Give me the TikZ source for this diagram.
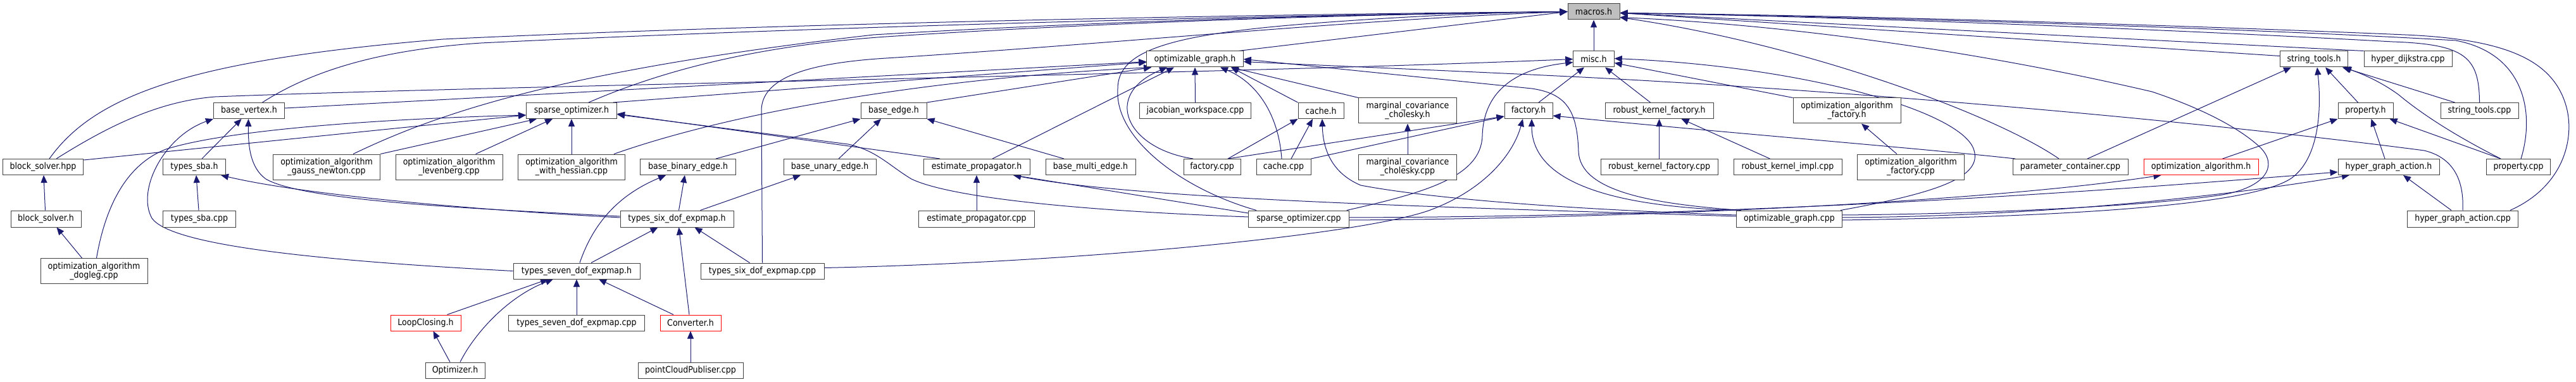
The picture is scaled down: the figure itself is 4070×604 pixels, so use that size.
\documentclass[tikz,border=0pt]{standalone}
\usepackage{fontspec}
\setmainfont{DejaVu Sans}[FakeStretch=0.9]
\usetikzlibrary{arrows.meta,backgrounds}
\definecolor{edgec}{HTML}{191970}
\definecolor{boxc}{HTML}{404040}
\definecolor{macfill}{HTML}{BFBFBF}
\newcommand\nodefont{\fontsize{14}{14}\selectfont}
\begin{document}
\begin{tikzpicture}[x=1pt,y=-1pt,
  box/.style={draw=boxc, line width=1pt, fill=white, inner sep=0pt, align=center, font=\nodefont, minimum height=25pt},
  redbox/.style={box, draw=red},
  e/.style={draw=edgec, line width=1pt, -{Triangle[length=12pt,width=10pt]}},
]
\path[use as bounding box] (0,0) rectangle (4070,604);
% row 0
\node[box, fill=macfill, minimum width=82pt] (mac) at (2518,18.5) {macros.h};
% row 1
\node[box, minimum width=64.5pt] (misc) at (2518,93.5) {misc.h};
\node[box, minimum width=152.5pt] (optg) at (1888,93.5) {optimizable\_graph.h};
\node[box, minimum width=107.5pt] (stl) at (3656,93.5) {string\_tools.h};
\node[box, minimum width=139pt] (hdc) at (3804.5,93.5) {hyper\_dijkstra.cpp};
% row 2
\node[box, minimum width=112pt] (bv) at (393.5,175) {base\_vertex.h};
\node[box, minimum width=143pt] (spo) at (903,175) {sparse\_optimizer.h};
\node[box, minimum width=104pt] (be) at (1412,175) {base\_edge.h};
\node[box, minimum width=176pt] (jws) at (1888.5,175) {jacobian\_workspace.cpp};
\node[box, minimum width=72pt] (ch) at (2087,175) {cache.h};
\node[box, minimum width=154.5pt, minimum height=40pt] (mcch) at (2224,175) {marginal\_covariance\\\_cholesky.h};
\node[box, minimum width=76pt] (fh) at (2415,175) {factory.h};
\node[box, minimum width=171pt] (rkfh) at (2621.5,175) {robust\_kernel\_factory.h};
\node[box, minimum width=170pt, minimum height=40pt] (oafh) at (2918,175) {optimization\_algorithm\\\_factory.h};
\node[box, minimum width=87pt] (prh) at (3737.5,175) {property.h};
\node[box, minimum width=123pt] (stc) at (3917.5,175) {string\_tools.cpp};
% row 3
\node[box, minimum width=127.5pt] (bsp) at (68,264) {block\_solver.hpp};
\node[box, minimum width=99pt] (tsh) at (307,264) {types\_sba.h};
\node[box, minimum width=169pt, minimum height=40pt] (ogn) at (516,264) {optimization\_algorithm\\\_gauss\_newton.cpp};
\node[box, minimum width=169pt, minimum height=40pt] (olv) at (709.5,264) {optimization\_algorithm\\\_levenberg.cpp};
\node[box, minimum width=169pt, minimum height=40pt] (owh) at (903,264) {optimization\_algorithm\\\_with\_hessian.cpp};
\node[box, minimum width=151pt] (bbe) at (1087,264) {base\_binary\_edge.h};
\node[box, minimum width=146pt] (bue) at (1311,264) {base\_unary\_edge.h};
\node[box, minimum width=168pt] (eph) at (1543,264) {estimate\_propagator.h};
\node[box, minimum width=142pt] (bme) at (1723,264) {base\_multi\_edge.h};
\node[box, minimum width=90pt] (fcp) at (1915,264) {factory.cpp};
\node[box, minimum width=86pt] (ccp) at (2028,264) {cache.cpp};
\node[box, minimum width=154.5pt, minimum height=40pt] (mccc) at (2224,264) {marginal\_covariance\\\_cholesky.cpp};
\node[box, minimum width=185pt] (rkfc) at (2621.5,264) {robust\_kernel\_factory.cpp};
\node[box, minimum width=171pt] (rkic) at (2824.5,264) {robust\_kernel\_impl.cpp};
\node[box, minimum width=169.5pt, minimum height=40pt] (oafc) at (3019,264) {optimization\_algorithm\\\_factory.cpp};
\node[box, minimum width=182pt] (pcc) at (3271,264) {parameter\_container.cpp};
\node[redbox, minimum width=181pt] (oah) at (3477.5,264) {optimization\_algorithm.h};
\node[box, minimum width=160pt] (hgah) at (3774,264) {hyper\_graph\_action.h};
\node[box, minimum width=101.5pt] (prc) at (3979,264) {property.cpp};
% row 4
\node[box, minimum width=111pt, minimum height=26pt] (bsh) at (72.5,346) {block\_solver.h};
\node[box, minimum width=114.5pt, minimum height=26pt] (tsc) at (315,346) {types\_sba.cpp};
\node[box, minimum width=179pt, minimum height=26pt] (t6h) at (1069.5,346) {types\_six\_dof\_expmap.h};
\node[box, minimum width=183pt, minimum height=26pt] (epc) at (1543,346) {estimate\_propagator.cpp};
\node[box, minimum width=158.5pt, minimum height=26pt] (spc) at (2052,346) {sparse\_optimizer.cpp};
\node[box, minimum width=167pt, minimum height=26pt] (ogc) at (2827,346) {optimizable\_graph.cpp};
\node[box, minimum width=175pt, minimum height=26pt] (hgac) at (3891,346) {hyper\_graph\_action.cpp};
% row 5
\node[box, minimum width=169pt, minimum height=40pt] (dog) at (148.5,428.5) {optimization\_algorithm\\\_dogleg.cpp};
\node[box, minimum width=200pt] (t7h) at (911,428.5) {types\_seven\_dof\_expmap.h};
\node[box, minimum width=195pt] (t6c) at (1204.5,428.5) {types\_six\_dof\_expmap.cpp};
% row 6
\node[redbox, minimum width=111pt] (lch) at (672.5,510.5) {LoopClosing.h};
\node[box, minimum width=215pt] (t7c) at (911,510.5) {types\_seven\_dof\_expmap.cpp};
\node[redbox, minimum width=96pt] (conv) at (1091,510.5) {Converter.h};
% row 7
\node[box, minimum width=94pt] (opt) at (719,585.5) {Optimizer.h};
\node[box, minimum width=166pt] (pcp) at (1091,585.5) {pointCloudPubliser.cpp};

\begin{pgfonlayer}{background}
\fill[white] (0,0) rectangle (4070,604);
% --- to macros.h
\draw[e] (misc.north) -- (mac.south);
\draw[e] ([xshift=-8pt]optg.north east) -- (mac.west);
\draw[e] ([xshift=21pt]bv.north) .. controls (480,120) and (580,80) .. (760,68) .. controls (1300,42) and (2000,24) .. (mac.west);
\draw[e] ([xshift=10pt]bsp.north) .. controls (150,150) and (300,95) .. (700,62) .. controls (1200,38) and (2000,22) .. (mac.west);
\draw[e] ([xshift=42pt]ogn.north) .. controls (700,175) and (900,110) .. (1380,55) .. controls (1800,30) and (2200,22) .. (mac.west);
\draw[e] ([xshift=27pt]spo.north) .. controls (1050,110) and (1200,72) .. (1400,58) .. controls (1800,32) and (2200,22) .. (mac.west);
\draw[e] (t6c.north) -- (1203,175) .. controls (1203,125) and (1270,100) .. (1400,92) .. controls (1750,70) and (2150,30) .. (mac.west);
\draw[e] ([xshift=-67pt]spc.north) .. controls (1870,300) and (1760,220) .. (1766,140) .. controls (1766,80) and (1850,55) .. (2060,38) .. controls (2250,23) and (2400,19) .. (mac.west);
\draw[e] ([yshift=5pt]stl.west) -- ([yshift=-2pt]mac.east);
\draw[e] (hdc.north west) -- ([yshift=-2pt]mac.east);
\draw[e] (stc.north) .. controls (3917,90) and (3895,70) .. (3780,66) .. controls (3400,45) and (2900,26) .. ([yshift=-2pt]mac.east);
\draw[e] ([xshift=4pt]prc.north) .. controls (4005,180) and (3990,85) .. (3880,64) .. controls (3500,42) and (2900,26) .. ([yshift=-2pt]mac.east);
\draw[e] ([xshift=75pt]hgac.north) .. controls (4050,295) and (4068,220) .. (4055,170) .. controls (4035,95) and (3960,62) .. (3800,55) .. controls (3400,38) and (2900,24) .. ([yshift=-2pt]mac.east);
\draw[e] ([xshift=-18pt]pcc.north) .. controls (3150,180) and (2850,70) .. ([yshift=-9pt]mac.east);
\draw[e] ([yshift=6pt]ogc.east) .. controls (3150,338) and (3400,325) .. (3511,308) .. controls (3580,296) and (3600,262) .. (3571,233) .. controls (3530,195) and (3460,165) .. (3400,145) .. controls (3100,75) and (2800,38) .. ([yshift=-9pt]mac.east);
% --- to misc.h
\draw[e] ([xshift=16pt]fh.north) -- ([xshift=-15pt]misc.south);
\draw[e] ([xshift=-14pt]rkfh.north) -- ([xshift=18pt]misc.south);
\draw[e] ([xshift=21pt]bsp.north) .. controls (170,200) and (250,160) .. (340,153) .. controls (800,135) and (1900,118) .. (misc.west);
\draw[e] ([xshift=-4pt]spc.north east) .. controls (2250,305) and (2340,280) .. (2342,215) .. controls (2344,140) and (2400,108) .. ([yshift=-5pt]misc.west);
\draw[e] (oafh.north west) -- ([yshift=-6pt]misc.east);
\draw[e] ([xshift=-3pt]ogc.north east) .. controls (3060,305) and (3135,280) .. (3118,235) .. controls (3095,175) and (2850,105) .. ([yshift=1pt]misc.east);
% --- to optimizable_graph.h
\draw[e] ([yshift=4pt]bv.east) -- ([yshift=-4pt]optg.west);
\draw[e] ([xshift=-6pt]spo.north east) -- ([yshift=-5pt]optg.west);
\draw[e] ([xshift=67pt]owh.north) .. controls (1150,180) and (1450,125) .. ([xshift=8pt]optg.south west);
\draw[e] (be.north east) -- ([xshift=8pt]optg.south west);
\draw[e] ([xshift=25pt]eph.north) -- ([xshift=-33pt]optg.south);
\draw[e] ([xshift=-30pt]fcp.north) .. controls (1780,235) and (1740,150) .. ([xshift=-44pt]optg.south);
\draw[e] (jws.north) -- (optg.south);
\draw[e] ([xshift=-3pt]ccp.north) .. controls (2020,180) and (1985,130) .. ([xshift=40pt]optg.south);
\draw[e] (ch.north west) -- ([xshift=57pt]optg.south);
\draw[e] (mcch.north west) -- ([xshift=57pt]optg.south);
\draw[e] ([xshift=-76pt]ogc.north) .. controls (2600,322) and (2497,300) .. (2494,240) .. controls (2492,175) and (2475,148) .. (2420,140) -- (optg.east);
\draw[e] (hgac.north) .. controls (3893,290) and (3880,250) .. (3830,238) .. controls (3500,195) and (3000,148) .. (2500,122) .. controls (2300,112) and (2100,104) .. ([yshift=-4pt]optg.east);
% --- to base_edge.h
\draw[e] ([xshift=44pt]bbe.north) -- (be.south west);
\draw[e] ([xshift=14pt]bue.north) -- ([xshift=-20pt]be.south);
\draw[e] ([xshift=-42pt]bme.north) -- (be.south east);
% --- to base_binary_edge.h / base_unary_edge.h
\draw[e] ([xshift=3pt]t6h.north) -- ([xshift=-5pt]bbe.south);
\draw[e] ([xshift=5pt]t7h.north) .. controls (940,345) and (985,305) .. ([xshift=-35pt]bbe.south);
\draw[e] ([xshift=37pt]t6h.north) -- ([xshift=-46pt]bue.south);
% --- to base_vertex.h
\draw[e] ([xshift=12pt]tsh.north) -- ([xshift=-12pt]bv.south);
\draw[e] ([yshift=4pt]t6h.west) .. controls (750,330) and (480,318) .. (420,283) .. controls (395,265) and (392,230) .. ([xshift=-1pt]bv.south);
\draw[e] (t7h.west) .. controls (500,412) and (270,388) .. (240,345) .. controls (215,300) and (260,215) .. (bv.south west);
% --- to types_sba.h
\draw[e] ([xshift=-1pt]tsc.north) -- ([xshift=3pt]tsh.south);
\draw[e] ([yshift=2pt]t6h.west) .. controls (750,332) and (480,308) .. ([xshift=-8pt]tsh.south east);
% --- block solver
\draw[e] ([xshift=-1pt]bsh.north) -- ([xshift=1pt]bsp.south);
\draw[e] ([xshift=-19pt]dog.north) -- ([xshift=17pt]bsh.south);
% --- to sparse_optimizer.h
\draw[e] ([yshift=11pt]bsp.east) -- ([yshift=-7pt]spo.west);
\draw[e] ([xshift=4pt]dog.north) .. controls (165,335) and (195,262) .. (262,236) .. controls (360,205) and (600,188) .. ([yshift=-7pt]spo.west);
\draw[e] (ogn.north east) -- ([xshift=-55pt]spo.south);
\draw[e] ([xshift=42pt]olv.north) -- ([xshift=-30pt]spo.south);
\draw[e] (owh.north) -- (spo.south);
\draw[e] ([xshift=-58pt]eph.north) -- ([yshift=-5pt]spo.east);
\draw[e] ([yshift=3pt]spc.west) .. controls (1700,333) and (1500,312) .. (1440,283) .. controls (1405,262) and (1385,238) .. (1340,228) -- ([yshift=-6pt]spo.east);
% --- to estimate_propagator.h
\draw[e] (epc.north) -- (eph.south);
\draw[e] ([yshift=9pt]spc.west) -- ([xshift=58pt]eph.south);
\draw[e] ([yshift=4pt]ogc.west) .. controls (2300,328) and (1800,316) .. ([xshift=58pt]eph.south);
% --- sparse_optimizer.cpp / optimizable_graph.cpp to the right
\draw[e] ([yshift=-2pt]spc.east) .. controls (2600,345) and (3150,318) .. ([xshift=-63pt]oah.south);
\draw[e] ([yshift=2pt]spc.east) .. controls (2800,342) and (3350,300) .. ([yshift=-8pt]hgah.west);
\draw[e] ([yshift=2pt]ogc.east) .. controls (3250,342) and (3550,305) .. ([xshift=-62pt]hgah.south);
\draw[e] ([yshift=-2pt]ogc.east) .. controls (3300,342) and (3560,322) .. (3620,282) .. controls (3665,250) and (3668,170) .. ([xshift=5pt]stl.south);
% --- to cache.h
\draw[e] ([xshift=25pt]fcp.north) -- (ch.south west);
\draw[e] ([xshift=12pt]ccp.north) -- ([xshift=-13pt]ch.south);
\draw[e] ([yshift=6pt]ogc.west) .. controls (2450,330) and (2250,312) .. (2150,293) .. controls (2100,272) and (2090,230) .. ([xshift=2pt]ch.south);
% --- to factory.h
\draw[e] ([xshift=25pt]fcp.north) -- ([yshift=-9pt]fh.west);
\draw[e] (ccp.north east) -- ([yshift=-9pt]fh.west);
\draw[e] ([yshift=5pt]t6c.east) .. controls (1700,415) and (2150,372) .. (2260,332) .. controls (2350,298) and (2392,240) .. ([xshift=-9pt]fh.south);
\draw[e] (ogc.north west) .. controls (2500,325) and (2420,270) .. ([xshift=5pt]fh.south);
\draw[e] ([xshift=-87pt]pcc.north) .. controls (3050,236) and (2750,212) .. ([yshift=-8pt]fh.east);
% --- robust kernel / algorithm factory / marginal
\draw[e] (rkfc.north) -- (rkfh.south);
\draw[e] ([xshift=-28pt]rkic.north) -- ([xshift=35pt]rkfh.south);
\draw[e] ([xshift=-22pt]oafc.north) -- ([xshift=23pt]oafh.south);
\draw[e] (mccc.north) -- (mcch.south);
% --- to string_tools.h
\draw[e] ([xshift=27pt]pcc.north) -- ([xshift=-36pt]stl.south);
\draw[e] ([xshift=-12pt]prh.north) -- ([xshift=18pt]stl.south);
\draw[e] ([xshift=-39pt]stc.north) -- ([xshift=45pt]stl.south);
\draw[e] ([xshift=-28pt]prc.north) .. controls (3870,210) and (3820,175) .. (3790,150) .. controls (3760,128) and (3730,116) .. ([xshift=47pt]stl.south);
% --- to property.h
\draw[e] ([xshift=34pt]oah.north) -- (prh.south west);
\draw[e] ([xshift=-6pt]hgah.north) -- ([xshift=9pt]prh.south);
\draw[e] ([xshift=-28pt]prc.north) -- ([xshift=38pt]prh.south);
% --- to hyper_graph_action.h
\draw[e] ([xshift=-18pt]hgac.north) -- ([xshift=23pt]hgah.south);
% --- to types_six_dof_expmap.h
\draw[e] ([xshift=23pt]t7h.north) -- ([xshift=-30pt]t6h.south);
\draw[e] ([xshift=-20pt]t6c.north) -- ([xshift=28pt]t6h.south);
\draw[e] ([xshift=-2pt]conv.north) -- ([xshift=3pt]t6h.south);
% --- to types_seven_dof_expmap.h
\draw[e] ([xshift=34pt]lch.north) -- ([xshift=-45pt]t7h.south);
\draw[e] ([xshift=8pt]opt.north) .. controls (748,530) and (800,470) .. ([xshift=-37pt]t7h.south);
\draw[e] (t7c.north) -- (t7h.south);
\draw[e] ([xshift=-27pt]conv.north) -- ([xshift=35pt]t7h.south);
% --- bottom
\draw[e] ([xshift=-8pt]opt.north) -- ([xshift=12pt]lch.south);
\draw[e] (pcp.north) -- (conv.south);
\end{pgfonlayer}
\end{tikzpicture}
\end{document}
